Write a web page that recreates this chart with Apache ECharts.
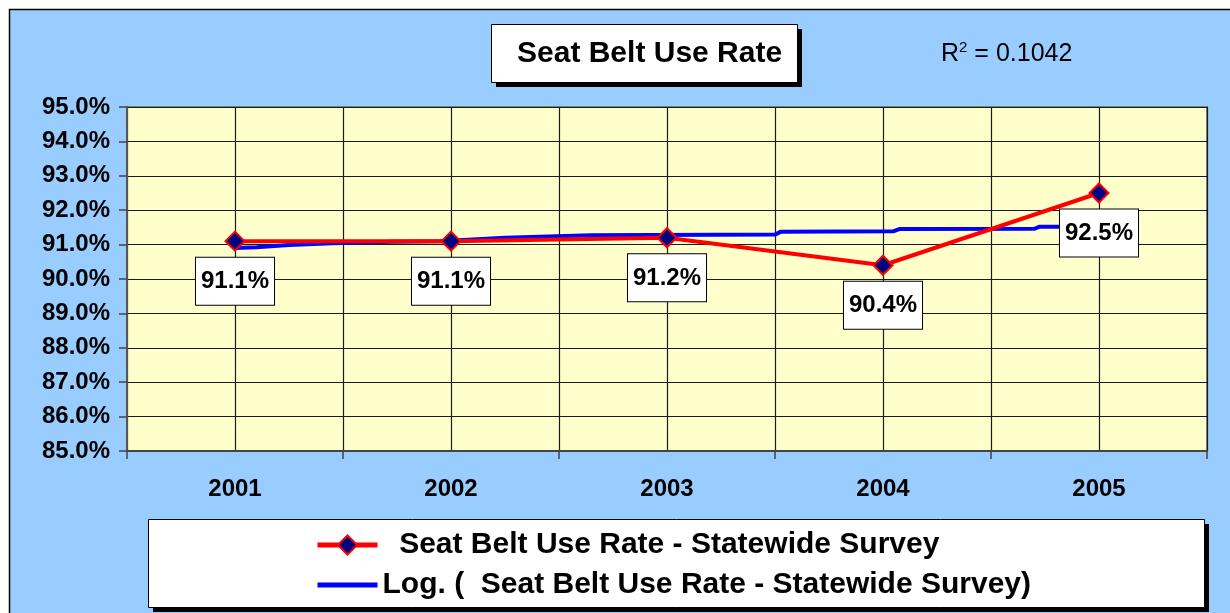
<!DOCTYPE html>
<html>
<head>
<meta charset="utf-8">
<title>Seat Belt Use Rate</title>
<script src="https://cdn.jsdelivr.net/npm/echarts@6/dist/echarts.min.js"></script>
<style>
    html, body { margin: 0; padding: 0; background: #fff; }
    #chart { width: 1230px; height: 613px; }
</style>
</head>
<body>
<div id="chart"></div>
<script>
// data
const years = ['2001', '2002', '2003', '2004', '2005'];
const useRate = [91.1, 91.1, 91.2, 90.4, 92.5];

// log trendline, read point by point (x is in half-category units, 1 = 2001 ... 9 = 2005)
const trendPos = [1.0, 1.2, 1.5, 1.9, 2.45, 2.9, 3.5, 4.3, 6.0, 6.05, 7.1, 7.15, 8.4, 8.45, 9.0];
const trendVal = [90.90, 90.92, 90.99, 91.04, 91.08, 91.10, 91.20, 91.27, 91.29, 91.37, 91.39, 91.45, 91.46, 91.52, 91.52];

const seriesName = 'Seat Belt Use Rate - Statewide Survey';
const trendName = 'Log. (  Seat Belt Use Rate - Statewide Survey)';

const font = "'Liberation Sans', Arial, sans-serif";

let chartDom = document.getElementById('chart');
let myChart = echarts.init(chartDom, null, { renderer: 'canvas' });

let option = {
    animation: false,
    backgroundColor: '#99CCFF',
    textStyle: { fontFamily: font },
    graphic: [
        // white margin + outer frame
        { type: 'rect', shape: { x: 0, y: 0, width: 1230, height: 9 }, style: { fill: '#fff' }, silent: true },
        { type: 'rect', shape: { x: 0, y: 0, width: 9, height: 613 }, style: { fill: '#fff' }, silent: true },
        { type: 'polyline', shape: { points: [[9.5, 620], [9.5, 9.5], [1235, 9.5]] }, style: { stroke: '#000', lineWidth: 1.5, fill: null }, silent: true },
        // title box with shadow
        { type: 'rect', shape: { x: 496, y: 29, width: 306, height: 58 }, style: { fill: '#000' }, silent: true },
        { type: 'rect', shape: { x: 491.5, y: 24.5, width: 306, height: 58 }, style: { fill: '#fff', stroke: '#000', lineWidth: 1 }, silent: true },
        { type: 'text', x: 517, y: 54, z: 10, style: { text: 'Seat Belt Use Rate', font: 'bold 30px ' + font, fill: '#000', textVerticalAlign: 'middle' }, silent: true },
        // R squared with a raised small 2
        {
            type: 'text', x: 941, y: 54, z: 10, silent: true,
            style: {
                text: '{r|R}{sup|2}{r| = 0.1042}',
                textVerticalAlign: 'middle',
                rich: {
                    r: { fontSize: 25, fontFamily: font, fill: '#000' },
                    sup: { fontSize: 15, fontFamily: font, fill: '#000', verticalAlign: 'top', padding: [0, 0, 12, 0] }
                }
            }
        },
        // legend box with shadow
        { type: 'rect', shape: { x: 153, y: 524, width: 1056, height: 88 }, style: { fill: '#000' }, silent: true },
        { type: 'rect', shape: { x: 148.5, y: 519.5, width: 1056, height: 88 }, style: { fill: '#fff', stroke: '#000', lineWidth: 1 }, silent: true }
    ],
    legend: {
        orient: 'vertical',
        left: 315,
        top: 530,
        padding: 0,
        itemGap: 10,
        itemWidth: 60,
        itemHeight: 24,
        selectedMode: false,
        data: [
            { name: seriesName, lineStyle: { width: 5 } },
            { name: trendName, lineStyle: { width: 5 }, itemStyle: { opacity: 0 } }
        ],
        formatter: name => name === seriesName ? '  ' + name : name,
        textStyle: { fontSize: 30, fontWeight: 'bold', color: '#000', fontFamily: font }
    },
    grid: {
        left: 127,
        right: 23,
        top: 107,
        bottom: 162,
        show: true,
        backgroundColor: '#FFFFCC',
        borderColor: '#808080',
        borderWidth: 2
    },
    xAxis: [
        {
            type: 'category',
            data: years,
            boundaryGap: true,
            axisLine: { lineStyle: { color: '#444', width: 2 } },
            axisTick: { show: true, length: 8, lineStyle: { color: '#444', width: 1.5 } },
            axisLabel: { fontSize: 24, fontWeight: 'bold', color: '#000', margin: 26 },
            splitLine: { show: false }
        },
        {
            // only used for vertical gridlines at boundaries and centres, and for the trendline
            type: 'value',
            min: 0,
            max: 10,
            interval: 1,
            position: 'bottom',
            axisLine: { show: false },
            axisTick: { show: false },
            axisLabel: { show: false },
            splitLine: { show: true, lineStyle: { color: '#1a1a1a', width: 1.2 } }
        }
    ],
    yAxis: {
        type: 'value',
        min: 85,
        max: 95,
        interval: 1,
        axisLine: { show: true, lineStyle: { color: '#555', width: 2 } },
        axisTick: { show: true, length: 8, lineStyle: { color: '#444', width: 1.5 } },
        axisLabel: {
            fontSize: 24,
            fontWeight: 'bold',
            color: '#000',
            margin: 17,
            formatter: v => v.toFixed(1) + '%'
        },
        splitLine: { show: true, lineStyle: { color: '#1a1a1a', width: 1.2 } }
    },
    series: [
        {
            name: seriesName,
            type: 'line',
            xAxisIndex: 0,
            data: useRate,
            symbol: 'diamond',
            symbolSize: 19,
            itemStyle: { color: '#000080', borderColor: '#FF0000', borderWidth: 2 },
            lineStyle: { color: '#FF0000', width: 4 },
            label: {
                show: true,
                position: 'bottom',
                distance: 6,
                formatter: p => p.value.toFixed(1) + '%',
                fontSize: 24,
                fontWeight: 'bold',
                color: '#000',
                backgroundColor: '#fff',
                borderColor: '#000',
                borderWidth: 1,
                padding: [12, 5, 11, 5]
            },
            z: 3
        },
        {
            name: trendName,
            type: 'line',
            xAxisIndex: 1,
            data: trendPos.map((x, i) => [x, trendVal[i]]),
            symbol: 'none',
            lineStyle: { color: '#0000FF', width: 4 },
            itemStyle: { color: '#0000FF' },
            z: 2
        }
    ]
};

myChart.setOption(option);
</script>
</body>
</html>
